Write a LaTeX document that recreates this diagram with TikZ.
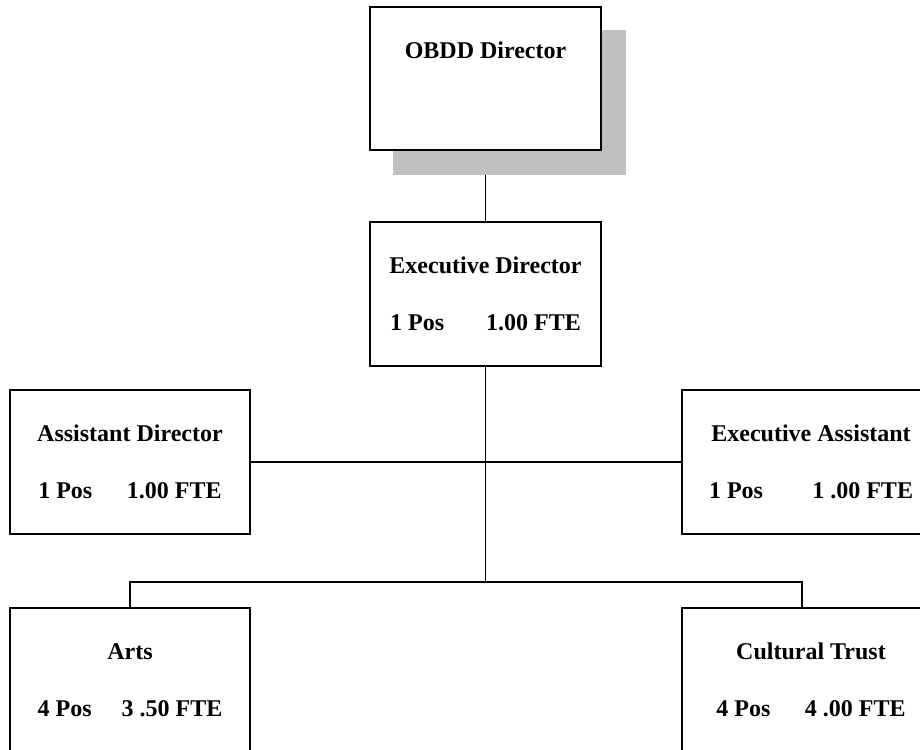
\documentclass[tikz,border=0pt]{standalone}
\usepackage{fontspec}
\setmainfont{Liberation Serif}
\definecolor{shadowgray}{RGB}{192,192,192}
\begin{document}
\begin{tikzpicture}[
				x=0.75pt, y=-0.75pt,
				every node/.style={font=\fontsize{18}{42.75}\selectfont\bfseries, align=center},
				unit/.style={draw, line width=1.7pt, fill=white, minimum height=108pt, inner sep=0},
				shadowbox/.style={fill=shadowgray, minimum width=174.75pt, minimum height=108.75pt, inner sep=0},
				link/.style={line width=1.3pt},
			]
			\fill[white] (0,0) rectangle (920,749);
			\path[use as bounding box] (0,0) rectangle (920,749);
			\clip (0,0) rectangle (920,749);
			\node[shadowbox] (obddS) at (509.5,102.5) {};
			\node[unit, minimum width=173.25pt, minimum height=107.25pt] (obdd) at (485.5,78.5) {OBDD Director\\\mbox{}};
			\node[unit, minimum width=173.25pt] (exec) at (485.5,294) {Executive Director\\1 Pos\hspace{31.5pt}1.00 FTE};
			\node[unit, minimum width=180pt] (asst) at (130,462) {Assistant Director\\1 Pos\hspace{26pt}1.00 FTE};
			\node[unit, minimum width=193.5pt] (eassist) at (811,462) {Executive Assistant\\1 Pos\hspace{37pt}1 .00 FTE};
			\node[unit, minimum width=180pt] (arts) at (130,680) {Arts\\4 Pos\hspace{22.5pt}3 .50 FTE};
			\node[unit, minimum width=193.5pt] (trust) at (811,680) {Cultural Trust\\4 Pos\hspace{26pt}4 .00 FTE};
			\coordinate (bus) at (485.5,582);
			\draw[link] (exec.north) -- (exec.north |- obddS.south);
			\draw[link] (exec.south) -- (bus);
			\draw[link] (asst.east) -- (eassist.west);
			\draw[link] (arts.north) |- (bus) -| ([xshift=-6.75pt]trust.north);
			\end{tikzpicture}
\end{document}
